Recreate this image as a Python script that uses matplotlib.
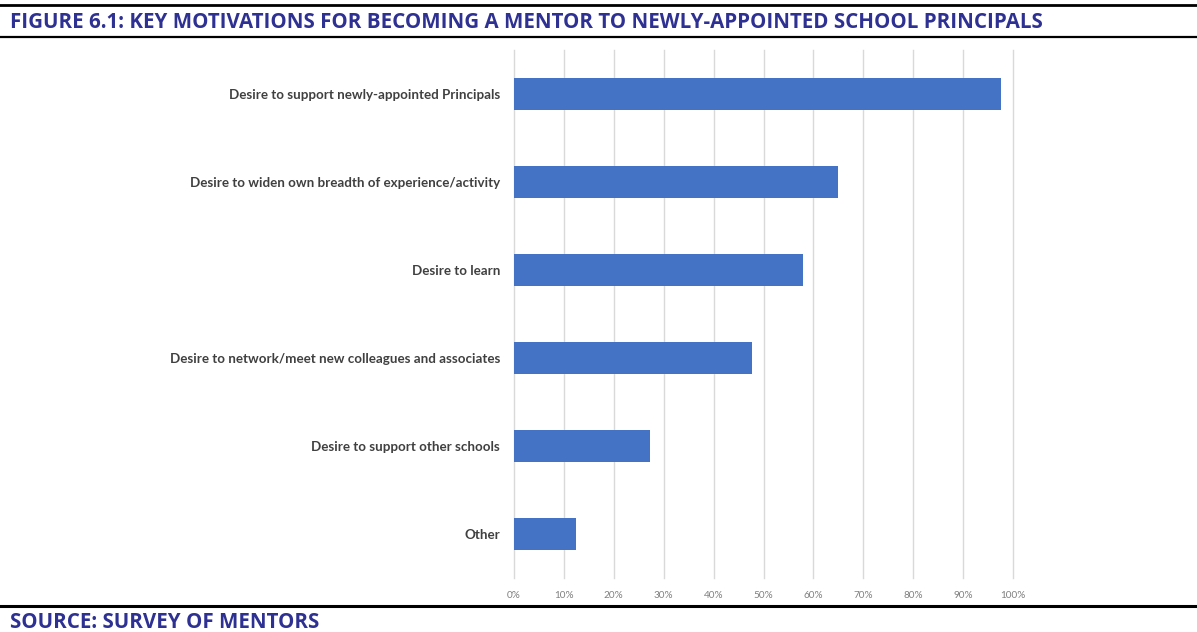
import matplotlib.pyplot as plt
from matplotlib.ticker import PercentFormatter

categories = [
    "Desire to support newly-appointed Principals",
    "Desire to widen own breadth of experience/activity",
    "Desire to learn",
    "Desire to network/meet new colleagues and associates",
    "Desire to support other schools",
    "Other",
]
values = [97.6, 64.9, 57.9, 47.7, 27.3, 12.5]
ticks = list(range(0, 101, 10))

title = "FIGURE 6.1: KEY MOTIVATIONS FOR BECOMING A MENTOR TO NEWLY-APPOINTED SCHOOL PRINCIPALS"
source = "SOURCE: SURVEY OF MENTORS"

W, H = 1197, 632
fig = plt.figure(figsize=(W / 100, H / 100), dpi=100)

# plot area in pixel terms
left, right, top, bottom = 514, 1013, 50, 578
ax = fig.add_axes([left / W, 1 - bottom / H, (right - left) / W, (bottom - top) / H])

pos = list(range(len(categories)))
ax.barh(pos, values, height=0.36, color="#4472C4", zorder=3)
ax.set_ylim(len(categories) - 0.5, -0.5)
ax.set_yticks(pos)
ax.set_yticklabels(categories, fontfamily="Lato", fontweight="bold",
                   fontsize=9.6, color="#404040")
ax.set_xlim(0, 100)
ax.set_xticks(ticks)
ax.xaxis.set_major_formatter(PercentFormatter(decimals=0))
for lab in ax.get_xticklabels():
    lab.set_fontfamily("Lato")
    lab.set_fontsize(7.2)
    lab.set_color("#808080")
ax.tick_params(axis="y", length=0, pad=10)
ax.tick_params(axis="x", length=0, pad=9)
ax.grid(axis="x", color="#D9D9D9", linewidth=1, zorder=0)
for gl in ax.xaxis.get_gridlines():
    gl.set_clip_on(False)
for s in ax.spines.values():
    s.set_visible(False)

# header / footer rules and text
def hline(y, lw):
    fig.add_artist(plt.Line2D([0, 1], [1 - y / H, 1 - y / H], color="black",
                              linewidth=lw, transform=fig.transFigure))

hline(5, 2.0)
hline(37, 1.6)
hline(606, 2.2)

fig.text(10 / W, 1 - 22 / H, title, fontfamily="Open Sans", fontweight="bold",
         fontsize=14.8, color="#2E3192", va="center", ha="left")
fig.text(10 / W, 1 - 622 / H, source, fontfamily="Open Sans", fontweight="bold",
         fontsize=14.8, color="#2E3192", va="center", ha="left")

fig.savefig("out.png", dpi=100)
